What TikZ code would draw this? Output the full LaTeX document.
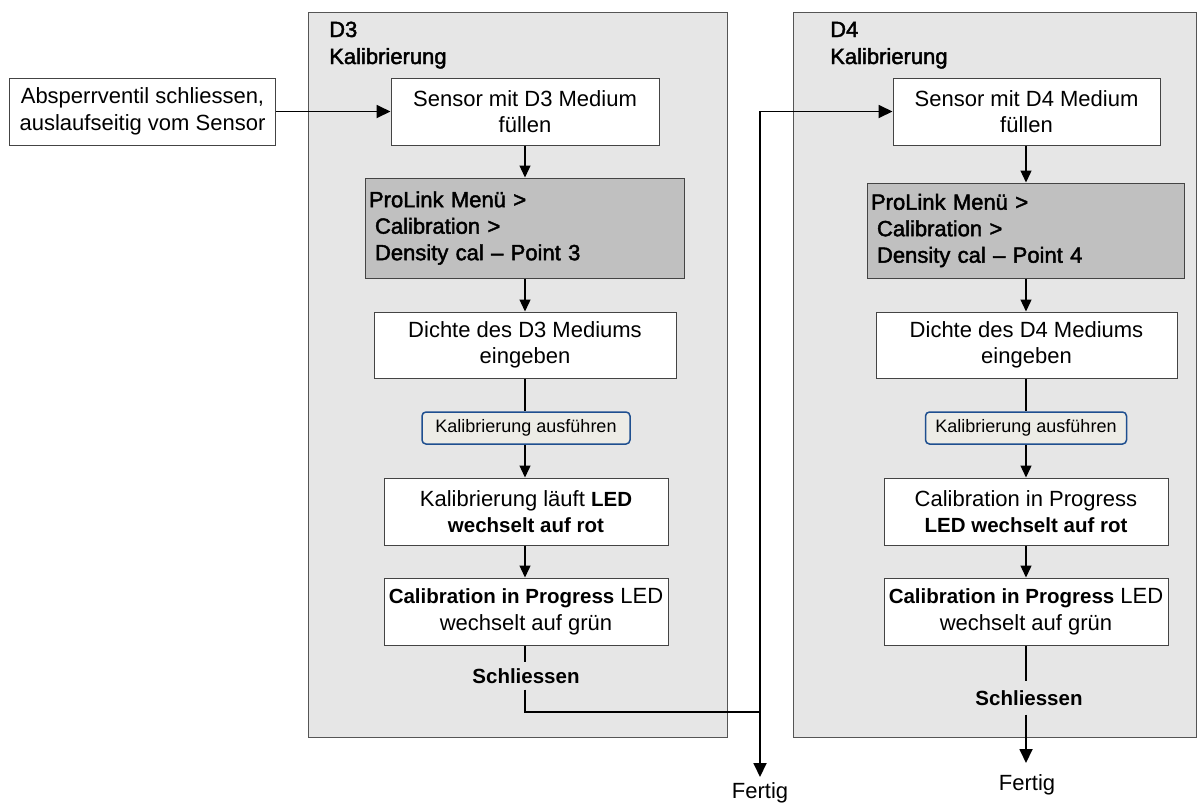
\documentclass[tikz,border=0pt]{standalone}
\usepackage{fontspec}
\setmainfont{Liberation Sans}
\newfontfamily\heavyfont{Liberation Sans}[FakeBold=2,Ligatures=TeX]
\usetikzlibrary{arrows.meta}
\definecolor{contfill}{HTML}{E6E6E6}
\definecolor{contdraw}{HTML}{555555}
\definecolor{boxdraw}{HTML}{444444}
\definecolor{menufill}{HTML}{C0C0C0}
\definecolor{btnfill}{HTML}{EDECE6}
\definecolor{btndraw}{HTML}{1F4F8F}
\newcommand{\rg}{\fontsize{22}{26.5}\selectfont}
\newcommand{\bd}[1]{{\fontsize{20.5}{26.5}\selectfont\bfseries #1}}
\tikzset{
  container/.style={draw=contdraw, fill=contfill, line width=1pt, inner sep=0pt},
  stepbox/.style={draw=boxdraw, fill=white, line width=1pt, align=center, inner xsep=2pt, inner ysep=0pt, font=\rg},
  menubox/.style={draw=boxdraw, fill=menufill, line width=1pt, align=left, inner ysep=0pt, font=\heavyfont\rg, text width=#1},
  btnbox/.style={draw=btndraw, fill=btnfill, line width=1.5pt, rounded corners=4pt, inner sep=0pt, font=\fontsize{18}{20}\selectfont},
  hdr/.style={anchor=base west, inner sep=0pt, font=\heavyfont\rg},
  lbl/.style={inner sep=0pt, font=\rg},
  flow/.style={line width=1.3pt, -{Triangle[length=12pt,width=11pt]}},
  flowplain/.style={line width=1.3pt},
  main/.style={line width=1.8pt, -{Triangle[length=14pt,width=13pt]}},
  mainplain/.style={line width=1.8pt},
}
\begin{document}
\begin{tikzpicture}[x=1pt, y=-1pt]
\useasboundingbox (0,0) rectangle (1204,804);
% containers
\node[container, minimum width=419pt, minimum height=725pt] (cont3) at (517.5,374.5) {};
\node[container, minimum width=403pt, minimum height=725pt] (cont4) at (994.5,374.5) {};
\node[hdr] (h3a) at (329,37) {D3};
\node[hdr] (h3b) at (329,64) {Kalibrierung};
\node[hdr] (h4a) at (830,37) {D4};
\node[hdr] (h4b) at (830,64) {Kalibrierung};
% left box
\node[stepbox, minimum width=266pt, minimum height=67pt] (abs) at (142.5,111.5) {Absperrventil schliessen,\\auslaufseitig vom Sensor};
% D3 column
\node[stepbox, minimum width=268pt, minimum height=67pt] (s3) at (525,111.5) {Sensor mit D3 Medium\\f\"ullen};
\node[menubox=312pt, minimum height=100pt] (p3) at (525,228) {ProLink Men\"u >\\\hspace*{6pt}Calibration >\\\hspace*{6pt}Density cal – Point 3};
\node[stepbox, minimum width=302pt, minimum height=66pt] (d3) at (525,345) {Dichte des D3 Mediums\\eingeben};
\node[btnbox, minimum width=208pt, minimum height=32pt] (b3) at (526,428) {Kalibrierung ausf\"uhren};
\node[stepbox, minimum width=284pt, minimum height=67pt] (k3) at (526,511.5) {Kalibrierung l\"auft \bd{LED}\\\bd{wechselt auf rot}};
\node[stepbox, minimum width=284pt, minimum height=67pt] (c3) at (526,611.5) {\bd{Calibration in Progress} LED\\wechselt auf gr\"un};
\node[lbl, inner ysep=6pt] (sch3) at (526,676) {\bd{Schliessen}};
% D4 column
\node[stepbox, minimum width=267pt, minimum height=67pt] (s4) at (1026.5,111.5) {Sensor mit D4 Medium\\f\"ullen};
\node[menubox=310pt, minimum height=95pt] (p4) at (1026,230.5) {ProLink Men\"u >\\\hspace*{6pt}Calibration >\\\hspace*{6pt}Density cal – Point 4};
\node[stepbox, minimum width=301pt, minimum height=66pt] (d4) at (1026.5,345) {Dichte des D4 Mediums\\eingeben};
\node[btnbox, minimum width=201pt, minimum height=32pt] (b4) at (1026,428) {Kalibrierung ausf\"uhren};
\node[stepbox, minimum width=284pt, minimum height=67pt] (k4) at (1026,511.5) {Calibration in Progress\\\bd{LED wechselt auf rot}};
\node[stepbox, minimum width=284pt, minimum height=67pt] (c4) at (1026,611.5) {\bd{Calibration in Progress} LED\\wechselt auf gr\"un};
\node[lbl, inner ysep=9pt] (sch4) at (1029,698) {\bd{Schliessen}};
% ends
\node[lbl, anchor=north] (f3) at (760,782) {Fertig};
\node[lbl, anchor=north] (f4) at (1027,774) {Fertig};
\coordinate (j) at (760,712);
% connectors
\draw[main] (abs.east) -- (s3.west);
\draw[flow] (s3.south) -- (s3.south |- p3.north);
\draw[flow] (s3.south |- p3.south) -- (s3.south |- d3.north);
\draw[flowplain] (s3.south |- d3.south) -- (s3.south |- b3.north);
\draw[flow] (s3.south |- b3.south) -- (s3.south |- k3.north);
\draw[flow] (s3.south |- k3.south) -- (s3.south |- c3.north);
\draw[flowplain] (s3.south |- c3.south) -- (s3.south |- sch3.north);
\draw[mainplain] (s3.south |- sch3.south) |- (j);
\draw[main] (j) |- (s4.west);
\draw[main, shorten >=5pt] (j) -- (f3.north);
\draw[flow] (c4.north |- s4.south) -- (c4.north |- p4.north);
\draw[flow] (c4.north |- p4.south) -- (c4.north |- d4.north);
\draw[flowplain] (c4.north |- d4.south) -- (c4.north |- b4.north);
\draw[flow] (c4.north |- b4.south) -- (c4.north |- k4.north);
\draw[flow] (c4.north |- k4.south) -- (c4.north);
\draw[flowplain] (c4.south) -- (c4.south |- sch4.north);
\draw[main, shorten >=11pt] (c4.south |- sch4.south) -- (c4.south |- f4.north);
\end{tikzpicture}
\end{document}
